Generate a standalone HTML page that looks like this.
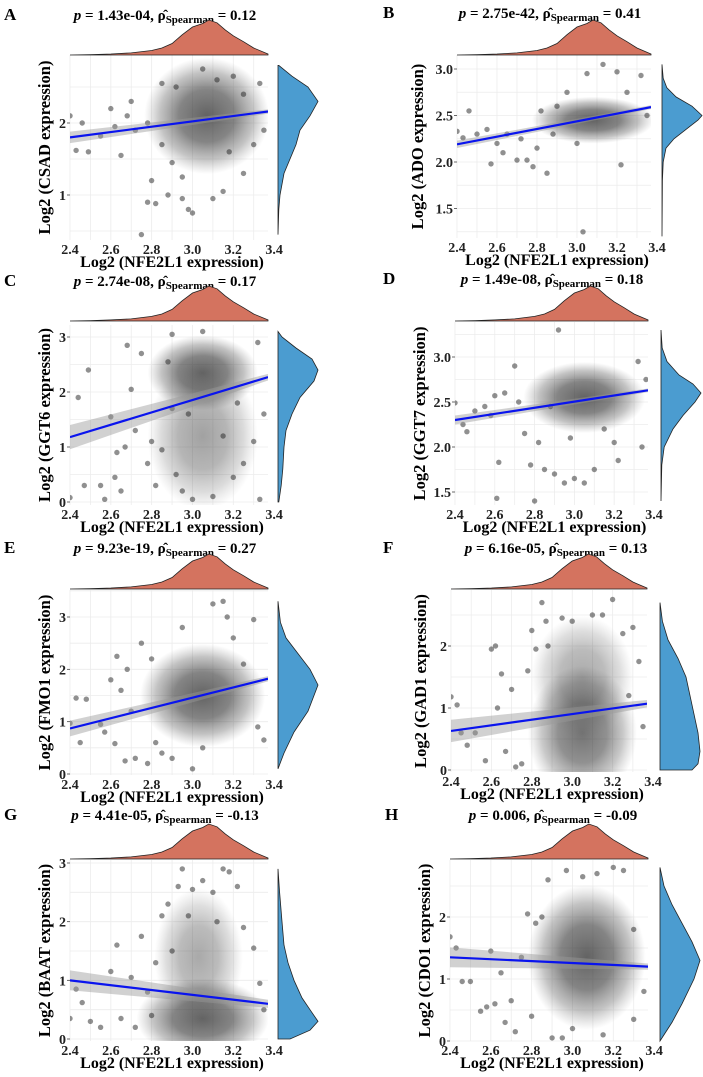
<!DOCTYPE html>
<html><head><meta charset="utf-8">
<style>
html,body{margin:0;padding:0;background:#fff;}
svg{display:block;font-family:"Liberation Serif",serif;}
</style></head>
<body>
<svg id="fig" width="703" height="1077" viewBox="0 0 703 1077" xmlns="http://www.w3.org/2000/svg"></svg>
<script>
// ---------- data ----------
const panelLetters = ["A","B","C","D","E","F","G","H"];
const genes = ["CSAD","ADO","GGT6","GGT7","FMO1","GAD1","BAAT","CDO1"];
const pValues = ["1.43e-04","2.75e-42","2.74e-08","1.49e-08","9.23e-19","6.16e-05","4.41e-05","0.006"];
const rhoValues = ["0.12","0.41","0.17","0.18","0.27","0.13","-0.13","-0.09"];
const lineStartY = [1.80,2.19,1.18,2.30,0.87,0.63,1.00,1.35];
const lineEndY   = [2.16,2.59,2.27,2.63,1.82,1.07,0.60,1.20];
const bandLeft   = [0.08,0.04,0.22,0.05,0.15,0.18,0.17,0.16];
const bandRight  = [0.03,0.02,0.06,0.02,0.05,0.06,0.07,0.05];
const yTicks = [[1,2],[1.5,2.0,2.5,3.0],[0,1,2,3],[1.5,2.0,2.5,3.0],[0,1,2,3],[0,1,2],[0,1,2,3],[0,1,2]];
const xTicks = [2.4,2.6,2.8,3.0,3.2,3.4];
// NFE2L1 marginal density (shared)
const xDensX = [2.40,2.50,2.60,2.70,2.80,2.85,2.90,2.95,3.00,3.05,3.08,3.12,3.16,3.20,3.25,3.30,3.37];
const xDensD = [0.00,0.01,0.03,0.06,0.13,0.20,0.33,0.58,0.80,0.90,1.00,0.92,0.72,0.55,0.38,0.20,0.03];
// gene marginal densities
const yDensV = [
 [0.45,0.8,1.0,1.3,1.5,1.7,1.9,2.1,2.3,2.5,2.65,2.8],
 [1.2,1.8,2.0,2.15,2.25,2.35,2.45,2.5,2.6,2.7,2.8,2.9,3.05],
 [0,0.3,0.6,1.0,1.3,1.6,1.9,2.2,2.4,2.6,2.8,3.0,3.1],
 [1.4,1.8,2.0,2.2,2.35,2.5,2.6,2.7,2.8,2.95,3.1,3.3],
 [0.1,0.4,0.8,1.2,1.5,1.7,2.0,2.3,2.6,2.9,3.3],
 [0,0.1,0.3,0.6,0.9,1.2,1.5,1.8,2.1,2.4,2.7],
 [0,0.15,0.3,0.5,0.7,1.0,1.3,1.6,2.0,2.5,2.9],
 [0,0.3,0.6,1.0,1.3,1.6,1.9,2.2,2.5,2.8]
];
const yDensD = [
 [0,0.02,0.05,0.15,0.3,0.45,0.55,0.8,1.0,0.75,0.35,0.02],
 [0,0.01,0.03,0.1,0.3,0.6,0.9,1.0,0.75,0.35,0.12,0.03,0],
 [0.02,0.08,0.12,0.15,0.2,0.35,0.55,0.9,1.0,0.85,0.45,0.1,0],
 [0,0.02,0.08,0.3,0.55,0.85,1.0,0.8,0.45,0.15,0.03,0],
 [0,0.15,0.4,0.75,0.9,1.0,0.8,0.5,0.2,0.06,0],
 [0.8,0.95,1.0,0.95,0.85,0.75,0.65,0.45,0.2,0.06,0],
 [0.3,0.8,1.0,0.8,0.6,0.4,0.25,0.15,0.1,0.04,0],
 [0,0.3,0.55,0.85,1.0,0.8,0.55,0.3,0.1,0]
];
// dense core of each cloud: [centerX, centerY, spreadX, spreadY, strength]
const cores = [
 [[3.07,2.1,0.17,0.45,1]],
 [[3.08,2.45,0.17,0.14,1]],
 [[3.05,2.35,0.15,0.38,1],[3.05,1.2,0.15,0.75,0.6]],
 [[3.05,2.55,0.17,0.22,1]],
 [[3.05,1.5,0.17,0.55,1]],
 [[3.05,0.6,0.15,0.6,0.9],[3.05,1.5,0.14,0.55,0.55]],
 [[3.05,0.35,0.18,0.38,1],[3.03,1.4,0.12,0.65,0.55]],
 [[3.07,1.35,0.16,0.65,1]]
];
const pointsA = [[2.40,2.1],[2.43,1.62],[2.46,2.0],[2.49,1.6],[2.55,1.82],[2.6,2.2],[2.62,1.95],[2.65,1.55],[2.68,2.1],[2.7,2.3],[2.72,1.9],[2.75,0.45],[2.78,0.9],[2.8,1.2],[2.82,0.88],[2.85,2.55],[2.88,1.0],[2.9,1.45],[2.95,0.95],[2.98,0.8],[3.0,0.75],[3.05,2.75],[3.1,0.95],[3.15,1.05],[3.2,2.65],[3.25,1.3],[3.3,1.7],[3.35,1.9],[3.33,2.55],[2.92,2.5],[3.25,2.4],[2.85,1.7],[3.18,1.6],[2.95,1.25],[3.12,2.6],[2.78,2.0]];
const pointsB = [[2.4,2.33],[2.43,2.26],[2.46,2.55],[2.5,2.3],[2.55,2.35],[2.57,1.98],[2.6,2.2],[2.63,2.1],[2.65,2.3],[2.7,2.02],[2.72,2.25],[2.75,2.02],[2.78,1.95],[2.8,2.15],[2.85,1.88],[2.88,2.3],[2.9,2.6],[2.95,2.75],[3.03,1.25],[3.05,2.95],[3.13,3.05],[3.2,2.97],[3.22,1.97],[3.32,2.93],[3.35,2.5],[2.82,2.55],[3.0,2.2],[3.25,2.75]];
const pointsC = [[2.4,0.08],[2.44,1.9],[2.47,0.3],[2.49,2.4],[2.55,0.3],[2.57,0.05],[2.6,1.55],[2.62,0.45],[2.63,0.9],[2.65,0.2],[2.67,1.0],[2.68,2.85],[2.7,2.05],[2.72,1.3],[2.75,2.7],[2.78,0.7],[2.8,1.1],[2.82,0.3],[2.85,0.95],[2.88,2.55],[2.9,3.05],[2.92,0.5],[2.95,0.2],[3.0,0.05],[3.05,3.1],[3.1,0.1],[3.2,0.45],[3.25,0.7],[3.3,1.1],[3.33,0.05],[3.32,2.9],[3.35,1.6],[2.98,1.6],[3.15,1.2],[3.22,1.8],[2.9,1.7]];
const pointsD = [[2.4,2.49],[2.44,2.25],[2.46,2.17],[2.5,2.4],[2.55,2.45],[2.58,2.35],[2.6,2.57],[2.62,1.83],[2.61,1.43],[2.65,2.6],[2.7,2.9],[2.72,2.5],[2.75,2.15],[2.78,1.8],[2.8,1.4],[2.82,2.05],[2.85,1.75],[2.88,2.45],[2.9,1.7],[2.92,3.3],[2.95,1.6],[3.0,1.65],[3.05,1.6],[3.1,1.75],[3.2,2.05],[3.22,1.85],[3.32,2.95],[3.34,2.0],[3.36,2.75],[2.98,2.1],[3.15,2.2]];
const pointsE = [[2.4,0.97],[2.43,1.45],[2.45,0.6],[2.48,1.43],[2.55,0.95],[2.57,0.8],[2.6,1.8],[2.62,0.58],[2.63,2.25],[2.65,1.6],[2.67,0.25],[2.68,2.0],[2.7,1.2],[2.72,0.3],[2.75,2.5],[2.78,0.2],[2.8,2.2],[2.82,0.6],[2.85,0.4],[2.9,0.3],[2.95,2.8],[3.0,0.1],[3.1,3.25],[3.15,3.3],[3.17,3.0],[3.2,2.6],[3.3,2.95],[3.32,0.9],[3.35,0.65],[3.25,2.1],[3.05,0.5]];
const pointsF = [[2.4,1.18],[2.43,1.05],[2.45,0.6],[2.48,0.4],[2.52,0.6],[2.57,0.15],[2.6,1.95],[2.62,2.0],[2.63,1.0],[2.65,1.55],[2.67,0.3],[2.7,1.3],[2.72,0.05],[2.75,0.1],[2.78,1.6],[2.8,2.25],[2.82,1.95],[2.85,2.7],[2.87,2.4],[2.88,2.0],[2.95,2.45],[3.0,2.4],[3.1,2.5],[3.15,2.5],[3.2,2.75],[3.25,2.2],[3.3,2.3],[3.35,0.7],[3.33,1.75],[3.28,1.2]];
const pointsG = [[2.4,0.35],[2.43,0.85],[2.46,0.62],[2.5,0.3],[2.55,0.2],[2.6,1.15],[2.63,1.6],[2.65,0.35],[2.7,1.05],[2.72,0.2],[2.75,1.75],[2.78,0.8],[2.8,0.4],[2.82,1.3],[2.85,2.1],[2.88,2.3],[2.9,1.5],[2.93,2.6],[2.95,2.9],[3.0,2.55],[3.05,2.7],[3.1,2.5],[3.15,2.9],[3.18,2.85],[3.22,2.6],[3.25,1.9],[3.3,1.55],[3.33,0.95],[3.35,0.5],[2.98,2.1],[3.12,2.0]];
const pointsH = [[2.4,1.68],[2.43,1.5],[2.46,0.96],[2.5,0.96],[2.55,0.48],[2.58,0.55],[2.6,1.45],[2.62,0.6],[2.65,1.1],[2.67,0.3],[2.7,0.65],[2.72,0.15],[2.75,1.35],[2.78,2.05],[2.8,0.4],[2.82,1.9],[2.85,2.0],[2.88,2.6],[2.9,0.05],[2.95,0.05],[2.97,2.75],[3.05,2.65],[3.12,2.7],[3.2,2.8],[3.25,2.75],[3.3,0.35],[3.35,0.8],[3.3,1.8],[3.15,0.1],[3.0,0.2]];
const allPoints = [pointsA,pointsB,pointsC,pointsD,pointsE,pointsF,pointsG,pointsH];

// ---------- layout (not data) ----------
const layout = [
 [70,268,55,240, 1,195, 2,123, 4,20, 165,20, 45, 278, 55],
 [457,651,55,238, 3.0,69, 2.0,162, 383,18, 550,18, 418, 662, 55],
 [70,268,325,505, 3,337, 0,502, 4,286, 165,286, 45, 278, 321],
 [455,648,322,505, 3.0,357, 1.5,492, 383,284, 552,284, 420, 661, 321],
 [70,268,590,775, 3,617, 0,774, 4,553, 165,553, 45, 278, 589],
 [451,647,590,772, 2,646, 0,770, 383,553, 556,553, 421, 660, 589],
 [70,268,860,1041, 3,863, 0,1039, 4,820, 165,820, 45, 278, 859],
 [450,648,860,1041, 2,917, 0,1041, 385,820, 553,820, 425, 660, 859]
];

const NS = "http://www.w3.org/2000/svg";
const svg = document.getElementById("fig");
function mk(tag, attrs, parent){
  const e = document.createElementNS(NS, tag);
  for (const k in attrs) e.setAttribute(k, attrs[k]);
  (parent||svg).appendChild(e);
  return e;
}
const defs = mk("defs", {});
const cg = mk("radialGradient", {id:"coreGrad"}, defs);
mk("stop",{offset:"0%","stop-color":"#262626","stop-opacity":"0.72"},cg);
mk("stop",{offset:"45%","stop-color":"#333","stop-opacity":"0.6"},cg);
mk("stop",{offset:"75%","stop-color":"#555","stop-opacity":"0.35"},cg);
mk("stop",{offset:"100%","stop-color":"#777","stop-opacity":"0"},cg);

for (let i=0;i<8;i++){
  const [L,R,T,B,v1,p1,v2,p2,lx,ly,tx,ty,ytx,rdx,tdb] = layout[i];
  const xs = v => L + (v-2.4)*(R-L)/0.97;
  const ys = v => p1 + (v-v1)*(p2-p1)/(v2-v1);
  const g = mk("g", {});
  
  

  const letter = mk("text",{x:lx,y:ly,"font-size":"17","font-weight":"bold"},g);
  letter.textContent = panelLetters[i];
  
  

  const t = mk("text",{x:tx,y:ty,"font-size":"15","font-weight":"bold","text-anchor":"middle"},g);
  
  
  const s1 = mk("tspan",{"font-style":"italic"},t); s1.textContent="p";
  const s2 = mk("tspan",{},t); s2.textContent=" = "+pValues[i]+", ρ\u0302";
  const s3 = mk("tspan",{"font-size":"11",dy:"3"},t); s3.textContent="Spearman";
  const s4 = mk("tspan",{dy:"-3"},t); s4.textContent=" = "+rhoValues[i];

  const grid = mk("g",{stroke:"#ececec","stroke-width":"0.8"},g);
  
  
  for (let v=2.4; v<=3.36; v+=0.1){ const X=xs(v); mk("line",{x1:X,x2:X,y1:T,y2:B},grid); }
  const yt = yTicks[i]; const step = yt[1]-yt[0];
  for (let v=yt[0]-step; v<=yt[yt.length-1]+step*1.01; v+=step/2){
    const Y=ys(v); if (Y>=T && Y<=B) mk("line",{x1:L,x2:R,y1:Y,y2:Y},grid);
  }

  let d = "M"+xs(xDensX[0])+","+tdb;
  xDensX.forEach((v,k)=>{ d += " L"+xs(v).toFixed(1)+","+(tdb-xDensD[k]*35).toFixed(1); });
  d += " L"+xs(xDensX[xDensX.length-1])+","+tdb+" Z";
  const td = mk("path",{d:d,fill:"#d4735f",stroke:"#222","stroke-width":"0.8"},g);
  
  

  const yv = yDensV[i], yd = yDensD[i];
  let d2 = "M"+rdx+","+ys(yv[0]).toFixed(1);
  yv.forEach((v,k)=>{ d2 += " L"+(rdx+yd[k]*40).toFixed(1)+","+ys(v).toFixed(1); });
  d2 += " L"+rdx+","+ys(yv[yv.length-1]).toFixed(1)+" Z";
  const rd = mk("path",{d:d2,fill:"#4b9cd0",stroke:"#222","stroke-width":"0.8"},g);
  
  

  const cp = mk("clipPath",{id:"clip"+i},defs);
  mk("rect",{x:L,y:T,width:R-L,height:B-T},cp);
  const pg = mk("g",{"clip-path":"url(#clip"+i+")"},g);
  
  

  cores[i].forEach(c=>{
    const e = mk("ellipse",{cx:xs(c[0]),cy:ys(c[1]),rx:Math.abs(xs(c[0]+c[2]*1.8)-xs(c[0])),ry:Math.abs(ys(c[1]+c[3]*1.8)-ys(c[1])),fill:"url(#coreGrad)",opacity:c[4]},pg);
    
    
  });
  allPoints[i].forEach(p=>{
    const c = mk("circle",{cx:xs(p[0]).toFixed(1),cy:ys(p[1]).toFixed(1),r:"2.7",fill:"#222","fill-opacity":"0.5"},pg);
    
    
  });
  const x0=2.4, x1=3.37;
  const band = mk("path",{d:"M"+xs(x0)+","+ys(lineStartY[i]+bandLeft[i])+" L"+xs(x1)+","+ys(lineEndY[i]+bandRight[i])+" L"+xs(x1)+","+ys(lineEndY[i]-bandRight[i])+" L"+xs(x0)+","+ys(lineStartY[i]-bandLeft[i])+" Z",fill:"#999","fill-opacity":"0.45"},pg);
  
  
  const ln = mk("line",{x1:xs(x0),y1:ys(lineStartY[i]),x2:xs(x1),y2:ys(lineEndY[i]),stroke:"#0a14ee","stroke-width":"2.2"},pg);
  
  

  yt.forEach(v=>{
    const Y = ys(v);
    mk("line",{x1:L-3,x2:L,y1:Y,y2:Y,stroke:"#444","stroke-width":"0.8"},g);
    const tl = mk("text",{x:L-4,y:Y+5,"font-size":"14","font-weight":"bold","text-anchor":"end",fill:"#222"},g);
    tl.textContent = (i===1||i===3) ? v.toFixed(1) : String(v);
    
    
  });
  xTicks.forEach(v=>{
    const tl = mk("text",{x:xs(v),y:B+14,"font-size":"14","font-weight":"bold","text-anchor":"middle",fill:"#222"},g);
    tl.textContent = v.toFixed(1);
    
    
  });
  const xt = mk("text",{x:(L+R)/2+3,y:B+27,"font-size":"16","font-weight":"bold","text-anchor":"middle"},g);
  xt.textContent = "Log2 (NFE2L1 expression)";
  
  
  const cy = (T+B)/2;
  const yT = mk("text",{x:ytx,y:cy,"font-size":"16.5","font-weight":"bold","text-anchor":"middle",transform:"rotate(-90 "+ytx+" "+cy+")",dy:"5"},g);
  yT.textContent = "Log2 ("+genes[i]+" expression)";
  
  
}
</script>
</body></html>
